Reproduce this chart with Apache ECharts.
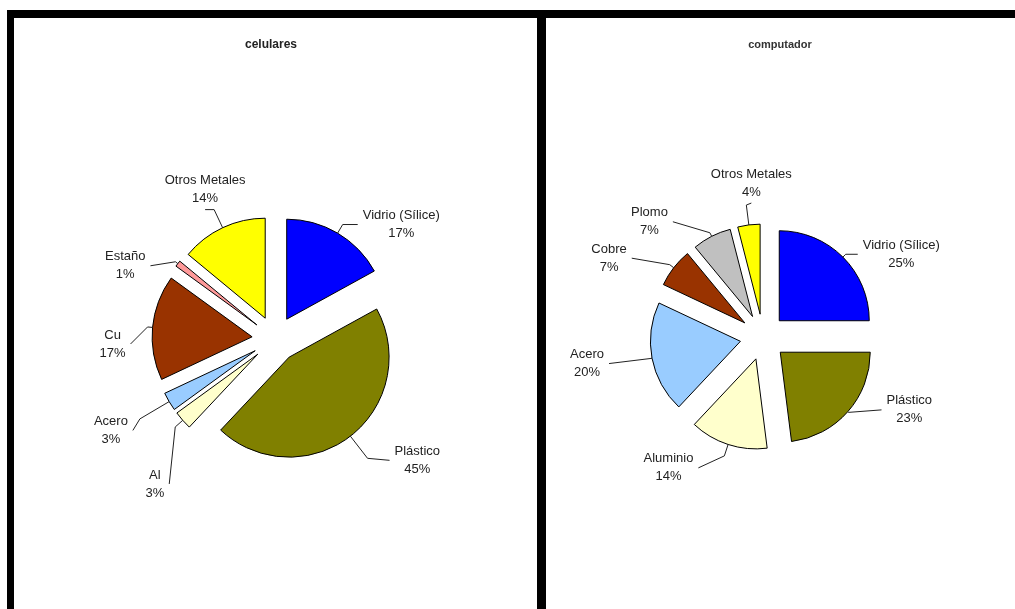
<!DOCTYPE html>
<html>
<head>
<meta charset="utf-8">
<style>
  html, body { margin: 0; padding: 0; background: #fff; }
  #chart { width: 1015px; height: 609px; }
</style>
<script src="https://cdn.jsdelivr.net/npm/echarts@6/dist/echarts.min.js"></script>
</head>
<body>
<div id="chart"></div>
<script>
// Composición de materiales (%)
const celularesNombres = ['Vidrio (Sílice)', 'Plástico', 'Al', 'Acero', 'Cu', 'Estaño', 'Otros Metales'];
const celularesValores = [17, 45, 3, 3, 17, 1, 14];

const computadorNombres = ['Vidrio (Sílice)', 'Plástico', 'Aluminio', 'Acero', 'Cobre', 'Plomo', 'Otros Metales'];
const computadorValores = [25, 23, 14, 20, 7, 7, 4];

const coloresCelulares = ['#0000ff', '#808000', '#ffffcc', '#99ccff', '#993300', '#ff9999', '#ffff00'];
const coloresComputador = ['#0000ff', '#808000', '#ffffcc', '#99ccff', '#993300', '#c0c0c0', '#ffff00'];

// Línea guía de cada etiqueta:
// [tramo radial, tramo horizontal, desplazamiento x del extremo, desplazamiento y del extremo, etiqueta encima]
const guiasCelulares = [
  [10, 15, 0, 0, false],
  [28, 22, 0, 2, false],
  [10, 1, -5, 57, false],
  [34, 6, -1, 11.5, false],
  [5, 15, -2, 17, false],
  [3, 25, 0, 4, false],
  [20, 7, -2, 0, true]
];
const guiasComputador = [
  [4, 12, 0, 0, false],
  [1, 33, 0, -2.5, false],
  [12, 26, 0, 12, false],
  [2, 40, -1, 5, false],
  [5, 35, -3, -6.5, false],
  [4, 36, -1, -11, false],
  [20, 1, 6, -2, true]
];

const textColor = '#222';
const fontFamily = 'Liberation Sans, Arial, sans-serif';

function buildData(names, values, colors, guides) {
  return names.map((n, i) => ({
    name: n,
    value: values[i],
    selected: true,
    itemStyle: { color: colors[i] },
    labelLine: { length: guides[i][0], length2: guides[i][1] }
  }));
}

function pieSeries(names, values, colors, guides, center, radius) {
  return {
    type: 'pie',
    center: center,
    radius: radius,
    startAngle: 90,
    clockwise: true,
    selectedMode: 'multiple',
    selectedOffset: 23,
    avoidLabelOverlap: false,
    animation: false,
    itemStyle: { borderColor: '#000', borderWidth: 1 },
    select: { itemStyle: { borderColor: '#000', borderWidth: 1 } },
    emphasis: { disabled: true },
    label: {
      show: true,
      position: 'outside',
      formatter: '{t|{b}}\n{t|{c}%}',
      color: textColor,
      fontFamily: fontFamily,
      fontSize: 13,
      lineHeight: 18,
      rich: {
        t: { align: 'center', color: textColor, fontFamily: fontFamily, fontSize: 13, lineHeight: 18 }
      }
    },
    labelLine: {
      show: true,
      lineStyle: { color: '#222', width: 1 }
    },
    // mueve el extremo de cada línea guía junto con su etiqueta
    labelLayout: function (params) {
      const g = guides[params.dataIndex];
      const pts = params.labelLinePoints;
      if (!g || !pts) {
        return { hideOverlap: false };
      }
      const nx = g[2], ny = g[3];
      const onLeft = pts[2][0] < pts[0][0];
      pts[2] = [pts[2][0] + nx, pts[2][1] + ny];
      let dx = nx, dy = ny;
      if (g[4]) {
        // etiqueta centrada encima del extremo de la línea
        dx += (onLeft ? 1 : -1) * (params.labelRect.width / 2 + 5);
        dy -= params.labelRect.height / 2 + 2;
      }
      return { hideOverlap: false, dx: dx, dy: dy, labelLinePoints: pts };
    },
    data: buildData(names, values, colors, guides)
  };
}

const chart = echarts.init(document.getElementById('chart'), null, { renderer: 'canvas' });

chart.setOption({
  backgroundColor: '#fff',
  title: [
    {
      text: 'celulares', left: 266, top: 34, textAlign: 'center',
      textStyle: { fontFamily: fontFamily, fontSize: 12, fontWeight: 'bold', color: textColor }
    },
    {
      text: 'computador', left: 775, top: 34, textAlign: 'center',
      textStyle: { fontFamily: fontFamily, fontSize: 11, fontWeight: 'bold', color: '#333' }
    }
  ],
  graphic: [
    // marco de los dos paneles
    { type: 'rect', shape: { x: 7, y: 10, width: 1008, height: 8 }, style: { fill: '#000' }, silent: true },
    { type: 'rect', shape: { x: 7, y: 10, width: 7, height: 599 }, style: { fill: '#000' }, silent: true },
    { type: 'rect', shape: { x: 537, y: 10, width: 9, height: 599 }, style: { fill: '#000' }, silent: true }
  ],
  series: [
    pieSeries(celularesNombres, celularesValores, coloresCelulares, guiasCelulares, [275, 339], 100),
    pieSeries(computadorNombres, computadorValores, coloresComputador, guiasComputador, [763, 337], 90)
  ]
});
</script>
</body>
</html>
